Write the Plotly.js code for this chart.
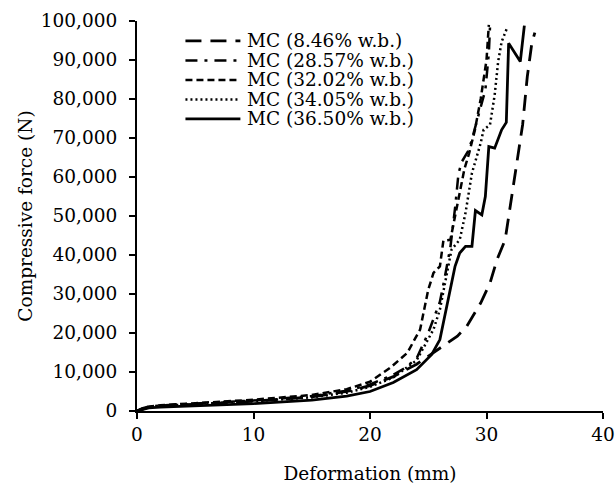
<!DOCTYPE html>
<html>
<head>
<meta charset="utf-8">
<script src="https://cdn.plot.ly/plotly-3.0.1.min.js"></script>
<style>html,body{margin:0;padding:0;background:#fff;}#chart{width:616px;height:484px;}</style>
</head>
<body>
<div id="chart"></div>
<script>
// Series names
const seriesNames = ["MC (8.46% w.b.)", "MC (28.57% w.b.)", "MC (32.02% w.b.)", "MC (34.05% w.b.)", "MC (36.50% w.b.)"];

// MC 8.46% (long dash)
const x846 = [0, 0.5, 1, 2, 5, 10, 15, 18, 20, 22, 24, 25, 26, 27.5, 28.3, 29.5, 30.3, 30.9, 31.6, 32.2, 32.6, 33.1, 33.5, 33.9, 34.15];
const y846 = [0, 600, 1000, 1300, 1700, 2500, 3600, 5000, 6500, 8800, 12000, 14000, 16000, 19200, 21700, 27700, 32800, 38800, 43900, 55900, 64400, 73400, 85700, 94500, 97000];

// MC 28.57% (dash-dot)
const x2857 = [0, 0.5, 1, 2, 5, 10, 15, 18, 20, 22, 23, 24, 25, 25.5, 26, 26.4, 26.9, 27.3, 27.6, 27.9, 28.5, 29.2, 29.5, 29.9, 30.2, 30.3];
const y2857 = [0, 700, 1100, 1400, 1900, 2700, 3800, 5200, 6800, 9300, 11000, 13500, 20000, 24000, 28000, 34000, 42000, 52000, 61000, 64000, 67000, 74600, 78000, 82300, 91700, 98500];

// MC 32.02% (dashed)
const x3202 = [0, 0.5, 1, 2, 5, 10, 15, 18, 20, 21.7, 23.2, 24.3, 25, 25.45, 26, 26.3, 26.9, 27.3, 27.7, 28.1, 28.5, 29, 29.5, 30, 30.2];
const y3202 = [0, 700, 1100, 1500, 2000, 2900, 4100, 5600, 7500, 11000, 14900, 20900, 31100, 35400, 37100, 43700, 43900, 50000, 56000, 62000, 66000, 72000, 80000, 90000, 99000];

// MC 34.05% (dotted)
const x3405 = [0, 0.5, 1, 2, 5, 10, 15, 18, 20, 22, 24, 25.45, 26, 26.6, 27, 27.7, 28.2, 28.75, 29.5, 29.75, 30.3, 30.7, 31, 31.3, 31.75];
const y3405 = [0, 600, 1000, 1300, 1700, 2500, 3500, 4700, 6200, 8600, 13000, 20900, 26000, 35400, 41400, 43900, 50800, 61000, 68700, 72100, 73400, 81000, 89600, 94700, 98100];

// MC 36.50% (solid)
const x3650 = [0, 0.5, 1, 2, 5, 10, 15, 18, 20, 22, 24, 25.3, 26, 26.6, 27.3, 27.7, 28.2, 28.75, 28.9, 29.05, 29.6, 29.9, 30.2, 30.7, 31.3, 31.7, 31.9, 32.9, 33.25];
const y3650 = [0, 500, 800, 1000, 1300, 1900, 2800, 3800, 5000, 7300, 10600, 14500, 18300, 27000, 37100, 40500, 42200, 42200, 46500, 51400, 50300, 55000, 67800, 67400, 72100, 74000, 94300, 89600, 98800];

// Axis ticks
const xTicks = [0, 10, 20, 30, 40];
const yTicks = [0, 10000, 20000, 30000, 40000, 50000, 60000, 70000, 80000, 90000, 100000];

const xs = [x846, x2857, x3202, x3405, x3650];
const ys = [y846, y2857, y3202, y3405, y3650];
const dashes = ["16px,9px", "12px,7px,3px,7px", "7px,4px", "2px,3px", "solid"];
const widths = [2.8, 2.5, 2.5, 2.5, 2.8];

const traces = xs.map((x, i) => ({
  type: "scatter",
  mode: "lines",
  x: x,
  y: ys[i],
  name: seriesNames[i],
  showlegend: false,
  line: {color: "#000", width: widths[i], dash: dashes[i]}
}));

const fontFam = "DejaVu Serif, serif";
const FS = 18.5;

// Legend drawn in paper coordinates (plot area: 136.5..603 x, 21..411.5 y)
const plotL = 136.5, plotW = 466.5, plotT = 21, plotH = 390.5;
const px2x = p => (p - plotL) / plotW;
const py2y = p => (plotT + plotH - p) / plotH;
const legendRowY = [41, 60.5, 80, 99.5, 119];
const shapes = [];
const annotations = [];
seriesNames.forEach((nm, i) => {
  shapes.push({
    type: "line", xref: "paper", yref: "paper",
    x0: px2x(185), x1: px2x(240), y0: py2y(legendRowY[i]), y1: py2y(legendRowY[i]),
    line: {color: "#000", width: widths[i], dash: dashes[i]}
  });
  annotations.push({
    xref: "paper", yref: "paper", x: px2x(245), y: py2y(legendRowY[i]),
    xanchor: "left", yanchor: "middle", showarrow: false, text: nm,
    font: {family: fontFam, size: FS, color: "#000"}
  });
});

const layout = {
  width: 616,
  height: 484,
  paper_bgcolor: "#fff",
  plot_bgcolor: "#fff",
  margin: {l: 136.5, r: 13, t: 21, b: 72.5},
  font: {family: fontFam, size: FS, color: "#000"},
  showlegend: false,
  shapes: shapes,
  annotations: annotations,
  xaxis: {
    range: [0, 40],
    tickvals: xTicks,
    ticktext: xTicks.map(String),
    ticks: "outside", ticklen: 6, tickwidth: 2, tickcolor: "#000",
    showline: true, linecolor: "#000", linewidth: 2,
    showgrid: false, zeroline: false,
    tickfont: {family: fontFam, size: FS, color: "#000"},
    title: {text: "Deformation (mm)", font: {family: fontFam, size: FS, color: "#000"}, standoff: 23}
  },
  yaxis: {
    range: [0, 100000],
    tickvals: yTicks,
    tickformat: ",d",
    ticks: "outside", ticklen: 6, tickwidth: 2, tickcolor: "#000",
    ticklabelstandoff: 8,
    showline: true, linecolor: "#000", linewidth: 2,
    showgrid: false, zeroline: false,
    tickfont: {family: fontFam, size: FS, color: "#000"},
    title: {text: "Compressive force (N)", font: {family: fontFam, size: FS, color: "#000"}, standoff: 3}
  }
};

Plotly.newPlot("chart", traces, layout, {displayModeBar: false, staticPlot: true});
</script>
</body>
</html>
